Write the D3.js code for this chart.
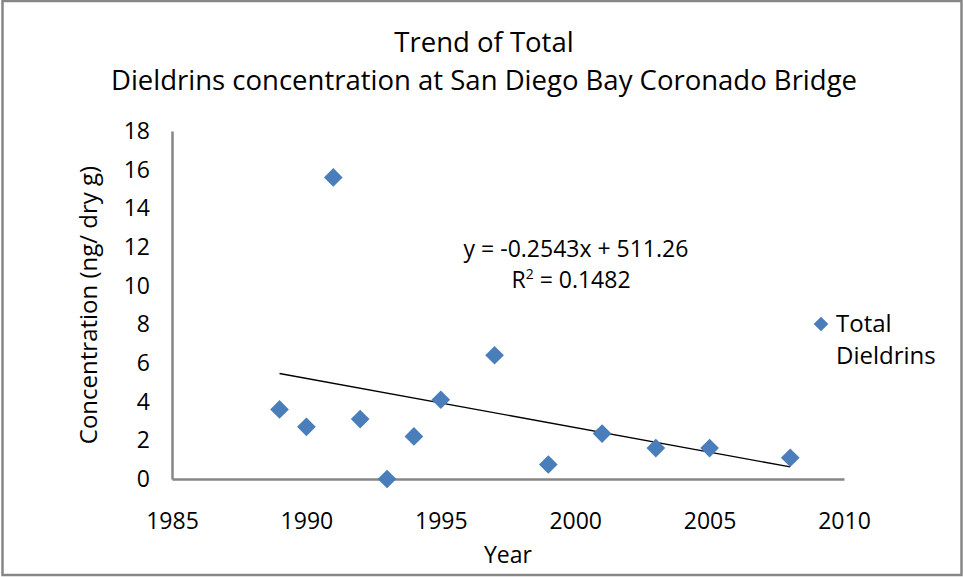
<!DOCTYPE html>
<html>
<head>
<meta charset="utf-8">
<script src="https://cdn.jsdelivr.net/npm/d3@7"></script>
<style>
  body { margin: 0; background: #fff; }
  svg text { font-family: 'Open Sans', Lato, sans-serif; fill: #000; font-variant-ligatures: none; }
</style>
</head>
<body>
<svg width="963" height="577"></svg>
<script>
var years = [1989, 1990, 1991, 1992, 1993, 1994, 1995, 1997, 1999, 2001, 2003, 2005, 2008];
var dieldrins = [3.6, 2.7, 15.6, 3.1, 0, 2.2, 4.1, 6.4, 0.75, 2.35, 1.6, 1.6, 1.1];
var xTicks = [1985, 1990, 1995, 2000, 2005, 2010];
var yTicks = [0, 2, 4, 6, 8, 10, 12, 14, 16, 18];
var titleLines = ['Trend of Total', 'Dieldrins concentration at San Diego Bay Coronado Bridge'];
var trendSlope = -0.2543;
var trendIntercept = 511.26;

var svg = d3.select('svg');

var plot = { left: 172, right: 844, top: 131, bottom: 479 };

var xScale = d3.scaleLinear().domain([1985, 2010]).range([plot.left, plot.right]);
var yScale = d3.scaleLinear().domain([0, 18]).range([plot.bottom, plot.top]);

// chart frame
svg.append('rect')
  .attr('x', 2.5).attr('y', 1).attr('width', 959).attr('height', 574)
  .attr('fill', 'none').attr('stroke', '#868686').attr('stroke-width', 2.5);

// title
svg.append('g').selectAll('text')
  .data(titleLines)
  .enter()
  .append('text')
  .attr('x', 484)
  .attr('y', (d, i) => 52 + i * 38)
  .attr('text-anchor', 'middle')
  .style('font-size', '27.5px')
  .text((d) => d);

// axes
var xAxis = d3.axisBottom(xScale).tickValues(xTicks).tickFormat(d3.format('d')).tickSize(0);
var yAxis = d3.axisLeft(yScale).tickValues(yTicks).tickSize(0).tickPadding(22);

var gx = svg.append('g').attr('transform', 'translate(0,' + plot.bottom + ')').call(xAxis);
var gy = svg.append('g').attr('transform', 'translate(' + plot.left + ',0)').call(yAxis);

[gx, gy].forEach(function(g) {
  g.select('.domain').attr('stroke', '#868686').attr('stroke-width', 2.5);
  g.selectAll('text').style('font-size', '23px').attr('fill', '#000');
});
gx.selectAll('text').attr('y', 50).attr('dy', 0);

svg.append('text')
  .text('Year')
  .attr('text-anchor', 'middle')
  .attr('x', 508)
  .attr('y', 563)
  .style('font-size', '23px');

svg.append('text')
  .text('Concentration (ng/ dry g)')
  .attr('text-anchor', 'middle')
  .attr('transform', 'translate(97,' + (plot.top + plot.bottom) / 2 + ') rotate(-90)')
  .style('font-size', '24px');

// trendline from the displayed equation
var x0 = d3.min(years), x1 = d3.max(years);
svg.append('line')
  .attr('x1', xScale(x0)).attr('y1', yScale(trendSlope * x0 + trendIntercept))
  .attr('x2', xScale(x1)).attr('y2', yScale(trendSlope * x1 + trendIntercept))
  .attr('stroke', '#000').attr('stroke-width', 1.3);

// points
var diamond = d3.symbol().type(d3.symbolSquare).size(175);
svg.append('g').selectAll('path')
  .data(years)
  .enter()
  .append('path')
  .attr('d', diamond)
  .attr('fill', '#4a7ebb')
  .attr('transform', (d, i) => 'translate(' + xScale(d) + ',' + yScale(dieldrins[i]) + ') rotate(45)');

// equation
svg.append('text')
  .attr('x', 576).attr('y', 257)
  .attr('text-anchor', 'middle')
  .style('font-size', '23px')
  .text('y = -0.2543x + 511.26');

var r2 = svg.append('text')
  .attr('x', 571).attr('y', 288)
  .attr('text-anchor', 'middle')
  .style('font-size', '23px');
r2.append('tspan').text('R');
r2.append('tspan').attr('dy', -9).style('font-size', '14px').text('2');
r2.append('tspan').attr('dy', 9).text(' = 0.1482');

// legend
var legend = svg.append('g');
legend.append('path')
  .attr('d', d3.symbol().type(d3.symbolSquare).size(108))
  .attr('fill', '#4a7ebb')
  .attr('transform', 'translate(821,324) rotate(45)');
legend.append('text').attr('x', 836).attr('y', 332).style('font-size', '24px').text('Total');
legend.append('text').attr('x', 836).attr('y', 364).style('font-size', '24px').text('Dieldrins');
</script>
</body>
</html>
